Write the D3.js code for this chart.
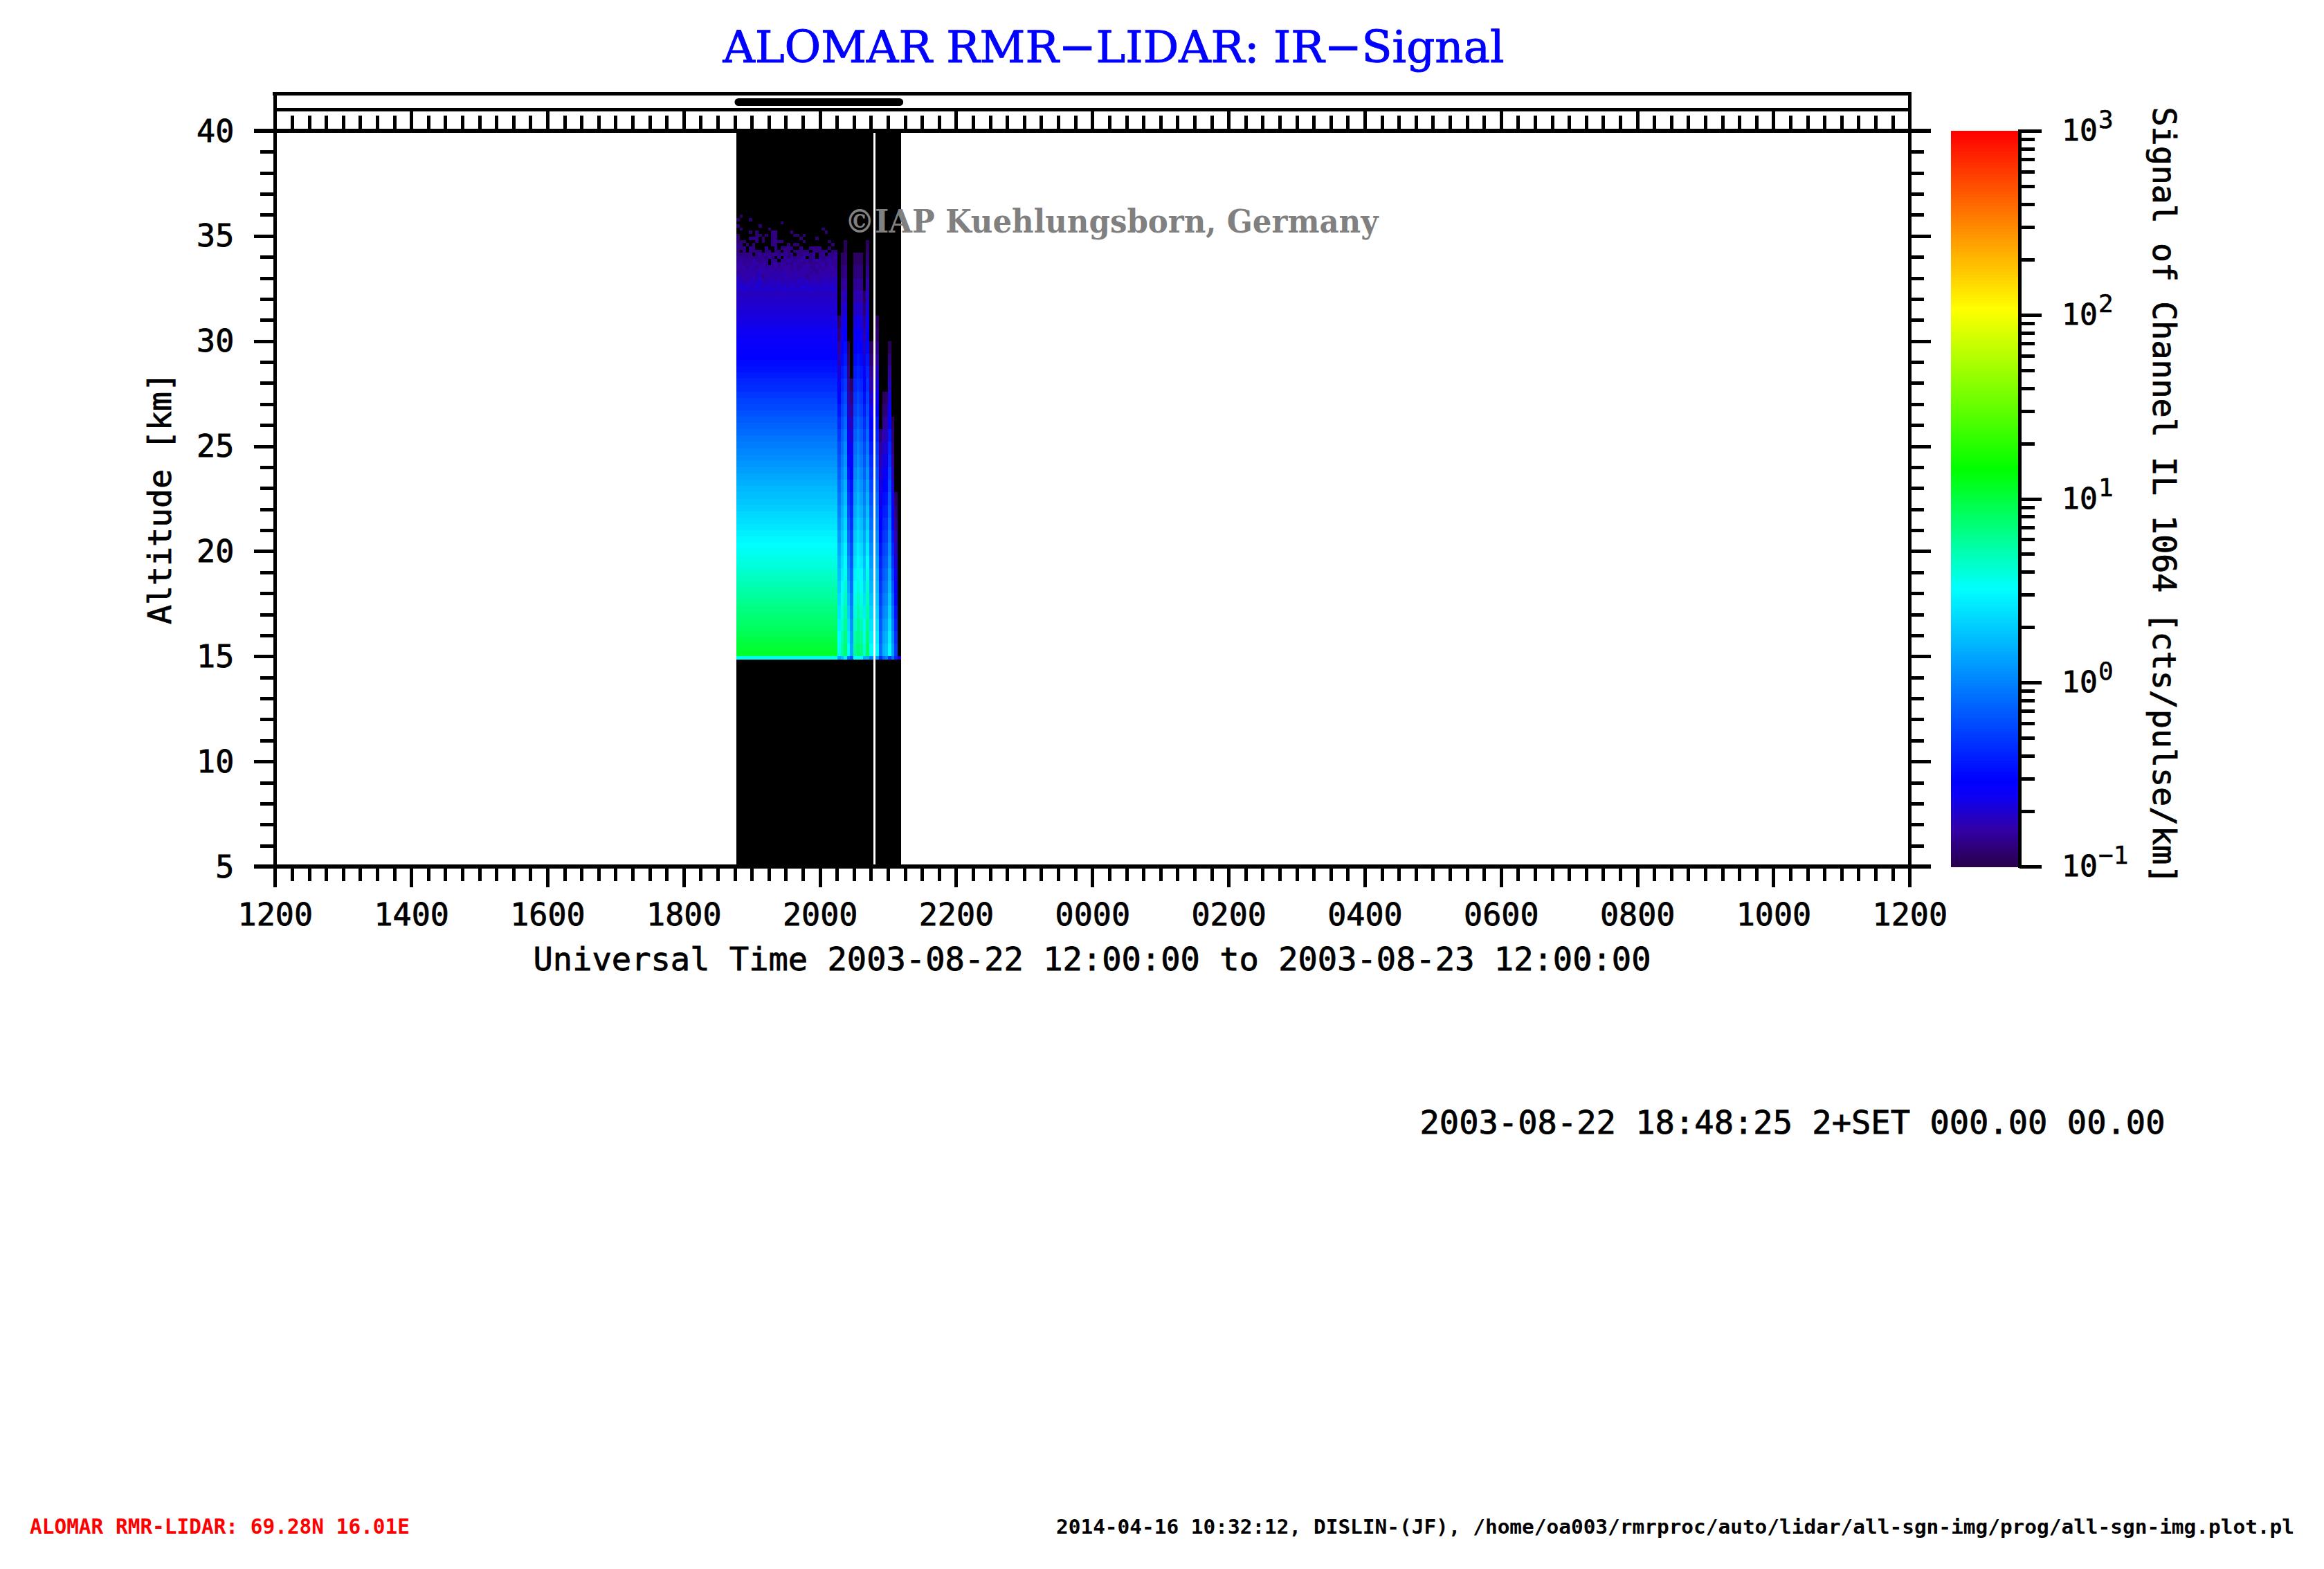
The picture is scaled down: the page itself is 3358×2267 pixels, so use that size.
<!DOCTYPE html>
<html><head><meta charset="utf-8">
<style>html,body{margin:0;padding:0;background:#fff}svg{display:block}</style>
<script src="https://cdn.jsdelivr.net/npm/d3@7"></script>
</head><body><svg id="c" width="3358" height="2267"></svg>
<script>
// ---------- texts and ticks
const titleText = "ALOMAR RMR\u2212LIDAR: IR\u2212Signal";
const watermark = "\u00A9IAP Kuehlungsborn, Germany";
const xTitle = "Universal Time 2003-08-22 12:00:00 to 2003-08-23 12:00:00";
const yTitle = "Altitude [km]";
const barTitle = "Signal of Channel IL 1064 [cts/pulse/km]";
const infoLine = "2003-08-22 18:48:25 2+SET 000.00 00.00";
const stationLine = "ALOMAR RMR-LIDAR: 69.28N 16.01E";
const footerLine = "2014-04-16 10:32:12, DISLIN-(JF), /home/oa003/rmrproc/auto/lidar/all-sgn-img/prog/all-sgn-img.plot.pl";
const xMajor = [12,14,16,18,20,22,24,26,28,30,32,34,36];
const yMajor = [5,10,15,20,25,30,35,40];
const barDecades = [-1,0,1,2,3];
const barMinorFactors = [2,3,4,5,6,7,8,9];

// ---------- colour table: log10(signal) -> colour
const colourLogs = [-1,-0.8,-0.6,-0.53,0.51,1.16,2.03,3];
const colourValues = ["#28004b","#3200a5","#0a00fa","#0000ff","#00ffff","#00ff00","#ffff00","#ff0000"];

// ---------- measurement columns (hours since 00 UT on 22 Aug)
const firstColumnStart = 18.774, wideColumnStep = 0.0464, wideColumnCount = 32;
const narrowEdges = [20.258,20.305,20.352,20.400,20.443,20.491,20.539,20.583,20.630,20.674,20.725,20.786,
                     null,20.816,20.867,20.918,20.962,21.002,21.050,21.094,21.141,21.189];

// ---------- log10(signal)*100
// Main block: 15.0 km upward in 0.3 km rows
const mainProfile = [105,102,99,95,92,89,86,83,80,76,73,70,67,64,60,57,54,51,48,45,41,38,35,31,28,25,22,18,15,12,8,5,2,
 -2,-5,-9,-13,-16,-20,-24,-27,-31,-35,-38,-42,-46,-49,-53,-55,-58,-60,-62,-64,-66,-68,-70,-72,-74];
// Main block, 36.0 km downward to 32.4 km in 0.15 km rows: one character per column, "." below the scale, d = -100 + 4*d
const noiseRows = [
 ".1..............................",
 "2...2...........................",
 "..............2.................",
 "2......2........................",
 ".2........2................2....",
 "....2.2....33....2..........2...",
 "2.....22.2.33.....22.2..........",
 "2...333.2..33.......2....2......",
 "222...2.2..3333......2.......2..",
 "33.2.2.....33...2.22..........2.",
 "333.33...3..3.3333..3..3333..2..",
 "3.3.3333.33.33.33.33333.33333.33",
 "33334.343434434434.334434.34.434",
 "444344344343.4.4343445.44.434445",
 "4544454444.44.445444544345444544",
 "5545465454.454544455445444554544",
 "55545645545454555454455445454554",
 "55556456565545455454565544545555",
 "45565566555656565565555454556545",
 "66556566456565665565654565565656",
 "76656767566656566656766565566667",
 "77667678666767666767667666767676",
 "78777687677677776776787777677776",
 "77887787787877787877877887787787"];
// Narrow cloud-affected columns: 15.0 km upward in 0.6 km rows
const narrowProfiles = [
 [55,50,45,40,36,30,25,20,15,10,5,0,-5,-10,-15,-20,-24,-31,-38,-45,-52,-60,-67,-74,-81,-88,-95],
 [75,70,64,59,54,49,43,38,33,28,22,17,12,7,1,-4,-9,-15,-21,-27,-32,-38,-44,-50,-56,-62,-68,-74,-79,-85,-91,-95],
 [90,85,79,74,68,63,57,52,47,41,36,31,25,20,14,9,4,-3,-9,-16,-22,-29,-35,-42,-48,-55,-61,-68,-74,-81,-87,-93,-97],
 [50,43,37,30,24,17,10,4,-3,-10,-16,-23,-29,-36,-43,-49,-55,-60,-66,-71,-76,-82,-87,-92,-96],
 [16,11,6,1,-4,-9,-13,-18,-23,-28,-33,-38,-42,-47,-52,-57,-62,-69,-75,-82,-88,-95],
 [78,73,67,62,57,51,46,40,35,30,24,19,13,8,3,-3,-8,-14,-20,-26,-31,-37,-43,-49,-55,-60,-66,-72,-78,-84,-90,-95],
 [88,82,77,71,66,60,55,49,44,38,33,27,22,16,11,5,0,-6,-13,-19,-25,-32,-38,-44,-51,-57,-63,-70,-76,-82,-88,-94],
 [83,77,72,66,60,54,49,43,37,31,26,20,14,8,3,-3,-8,-14,-20,-26,-31,-37,-43,-49,-55,-60,-66,-72,-78,-84,-90,-95],
 [60,55,49,44,39,34,28,23,18,13,7,2,-3,-8,-14,-19,-24,-30,-36,-43,-49,-55,-61,-67,-74,-80,-86,-92,-96],
 [93,87,81,75,69,63,57,51,45,38,32,26,20,14,8,2,-4,-10,-16,-21,-27,-33,-38,-44,-50,-56,-61,-67,-73,-78,-84,-90,-95],
 [50,44,39,33,27,21,16,10,4,-2,-8,-13,-19,-25,-31,-36,-42,-49,-56,-63,-70,-77,-83,-90,-96],
 null,
 [55,49,42,36,30,24,17,11,5,-1,-8,-14,-20,-26,-33,-39,-45,-50,-56,-61,-67,-72,-78,-83,-89,-94],
 [50,45,40,34,29,24,19,14,8,3,-2,-7,-12,-18,-23,-28,-33,-40,-46,-53,-59,-66,-72,-79,-85,-92,-96],
 [-8,-13,-17,-22,-27,-31,-36,-40,-45,-50,-54,-59,-64,-68,-73,-77,-82,-90],
 [20,14,9,3,-2,-8,-14,-19,-25,-31,-36,-42,-48,-53,-59,-64,-70,-77,-84,-90,-96],
 [25,19,13,7,1,-5,-11,-17,-23,-29,-34,-40,-46,-52,-58,-64,-70,-76,-83,-89,-95],
 [50,45,39,34,28,23,18,12,7,1,-4,-10,-15,-21,-26,-32,-37,-44,-52,-59,-67,-74,-82,-89,-96],
 [12,6,-1,-7,-13,-19,-26,-32,-38,-44,-51,-57,-63,-69,-76,-82,-88,-92,-97],
 [-29,-34,-40,-45,-51,-56,-62,-67,-73,-78,-84,-89,-95]];
// Bright layer just below 15 km: main block value, then the narrow columns
const baseMain = 55;
const baseNarrow = [14,24,44,-8,-20,52,52,50,16,20,0,null,12,8,-36,-10,0,-30,-8,-38,-70];

// ---------- scales
const x = d3.scaleLinear().domain([12,36]).range([397.3,2759.3]);
const y = d3.scaleLinear().domain([5,40]).range([1252,189]);
const cb = d3.scaleLinear().domain([-1,3]).range([1252,189]);
const colour = d3.scaleLinear().domain(colourLogs).range(colourValues).clamp(true);

const svg = d3.select("#c");
const monoFont = "'DejaVu Sans Mono'";
const plot = svg.append("g").attr("shape-rendering","crispEdges");

// ---------- build cells
const columns = [], cells = [];
d3.range(wideColumnCount).forEach(i => columns.push({t0:firstColumnStart+i*wideColumnStep, t1:firstColumnStart+(i+1)*wideColumnStep, i, wide:true}));
narrowEdges.forEach((e,i) => { if(e!==null && narrowEdges[i+1]!=null) columns.push({t0:e,t1:narrowEdges[i+1],n:i,wide:false}); });
columns.forEach(c => {
  if(c.wide){
    cells.push({t0:c.t0,t1:c.t1,a0:14.85,a1:15,v:baseMain});
    mainProfile.forEach((v,k)=>cells.push({t0:c.t0,t1:c.t1,a0:15+k*0.3,a1:15.3+k*0.3,v}));
    noiseRows.forEach((r,k)=>{ const ch=r[c.i];
      if(ch && ch!==".") cells.push({t0:c.t0,t1:c.t1,a0:35.85-k*0.15,a1:36-k*0.15,v:-100+4*(+ch)}); });
  } else {
    const base=baseNarrow[c.n];
    if(base!=null) cells.push({t0:c.t0,t1:c.t1,a0:14.85,a1:15,v:base});
    (narrowProfiles[c.n]||[]).forEach((v,k)=>cells.push({t0:c.t0,t1:c.t1,a0:15+k*0.6,a1:15.6+k*0.6,v}));
  }
});

// black: values under the scale, one bar per column
plot.selectAll("rect.col").data(columns).join("rect").attr("class","col")
  .attr("x",d=>x(d.t0)).attr("width",d=>x(d.t1)-x(d.t0))
  .attr("y",y(40)).attr("height",y(5)-y(40)).attr("fill","#000");
plot.selectAll("rect.cell").data(cells).join("rect").attr("class","cell")
  .attr("x",d=>x(d.t0)).attr("width",d=>x(d.t1)-x(d.t0))
  .attr("y",d=>y(d.a1)).attr("height",d=>y(d.a0)-y(d.a1))
  .attr("fill",d=>colour(d.v/100));

// ---------- axes
function styleAxis(g,w){ g.select(".domain").remove();
  g.selectAll("line").attr("stroke","#000").attr("stroke-width",w).attr("shape-rendering","crispEdges");
  g.selectAll("text").attr("fill","#000").attr("stroke","#000").attr("stroke-width",0.8)
    .attr("font-family",monoFont).attr("font-size",45); }
const xMinor = d3.range(12,36.01,0.25).filter(h=>h%2!==0);
const yMinor = d3.range(5,40.01,1).filter(a=>a%5!==0);
const hourFmt = h => d3.format("02")(h%24)+"00";

const bottomMajor = svg.append("g").attr("transform",`translate(0,${y(5)})`)
  .call(d3.axisBottom(x).tickValues(xMajor).tickSize(30).tickFormat(hourFmt));
styleAxis(bottomMajor,5);
bottomMajor.selectAll("text").attr("y",85).attr("dy",0).attr("text-anchor","middle");
svg.append("g").attr("transform",`translate(0,${y(5)})`)
  .call(d3.axisBottom(x).tickValues(xMinor).tickSize(21).tickFormat("")).call(styleAxis,5);
svg.append("g").attr("transform",`translate(0,${y(40)})`)
  .call(d3.axisTop(x).tickValues(xMajor).tickSize(31).tickFormat("")).call(styleAxis,5);
svg.append("g").attr("transform",`translate(0,${y(40)})`)
  .call(d3.axisTop(x).tickValues(xMinor).tickSize(22).tickFormat("")).call(styleAxis,5);

const leftMajor = svg.append("g").attr("transform",`translate(${x(12)},0)`)
  .call(d3.axisLeft(y).tickValues(yMajor).tickSize(30).tickFormat(d3.format("d")));
styleAxis(leftMajor,5);
leftMajor.selectAll("text").attr("x",-59).attr("dy",15).attr("text-anchor","end");
svg.append("g").attr("transform",`translate(${x(12)},0)`)
  .call(d3.axisLeft(y).tickValues(yMinor).tickSize(21).tickFormat("")).call(styleAxis,5);
svg.append("g").attr("transform",`translate(${x(36)},0)`)
  .call(d3.axisRight(y).tickValues(yMajor).tickSize(31).tickFormat("")).call(styleAxis,5);
svg.append("g").attr("transform",`translate(${x(36)},0)`)
  .call(d3.axisRight(y).tickValues(yMinor).tickSize(21).tickFormat("")).call(styleAxis,5);

// frame lines
const frame = svg.append("g").attr("stroke","#000").attr("shape-rendering","crispEdges");
const hLine=(xa,xb,yy,w)=>frame.append("line").attr("x1",xa).attr("x2",xb).attr("y1",yy).attr("y2",yy).attr("stroke-width",w);
const vLine=(xx,ya,yb,w)=>frame.append("line").attr("x1",xx).attr("x2",xx).attr("y1",ya).attr("y2",yb).attr("stroke-width",w);
hLine(x(12)-3,x(36)+3,135,5);
hLine(x(12),x(36),158,5);
hLine(x(12)-30,x(36)+31,y(40),6);
hLine(x(12)-30,x(36)+31,y(5),6);
vLine(x(12),133,y(5)+30,5);
vLine(x(36),133,y(5)+30,5);

// strip bar: time range of the measurement
svg.append("line").attr("x1",x(firstColumnStart)+3).attr("x2",x(narrowEdges[narrowEdges.length-1])-2)
  .attr("y1",147.5).attr("y2",147.5).attr("stroke","#000").attr("stroke-width",11).attr("stroke-linecap","round");

// ---------- colour bar
const barSteps = d3.range(256);
const barG = svg.append("g").attr("shape-rendering","crispEdges");
barG.selectAll("rect").data(barSteps).join("rect")
  .attr("x",2819).attr("width",97)
  .attr("y",i=>cb(-1+(i+1)*4/256)-0.5).attr("height",i=>cb(-1+i*4/256)-cb(-1+(i+1)*4/256)+1)
  .attr("fill",i=>colour(-1+(i+0.5)*4/256));
const barMinor = barDecades.slice(0,-1).flatMap(d=>barMinorFactors.map(f=>d+Math.log10(f)));
svg.append("g").attr("transform","translate(2918,0)")
  .call(d3.axisRight(cb).tickValues(barDecades).tickSize(32).tickFormat("")).call(styleAxis,5);
svg.append("g").attr("transform","translate(2918,0)")
  .call(d3.axisRight(cb).tickValues(barMinor).tickSize(22).tickFormat("")).call(styleAxis,5);
frame.append("line").attr("x1",2918).attr("x2",2918).attr("y1",187).attr("y2",1254).attr("stroke-width",5);

barDecades.forEach(d=>{
  svg.append("text").attr("font-family",monoFont).attr("fill","#000").attr("stroke","#000").attr("stroke-width",0.8)
    .attr("x",2979).attr("y",cb(d)+14).attr("font-size",43).text("10");
  svg.append("text").attr("font-family",monoFont).attr("fill","#000").attr("stroke","#000").attr("stroke-width",0.6)
    .attr("x",3032).attr("y",cb(d)-4).attr("font-size",36).text(d<0?"\u2212"+(-d):d);
});

// ---------- text
function label(str,opts){ const t=svg.append("text").text(str).attr("fill",opts.fill||"#000")
  .attr("font-family",opts.font||monoFont).attr("font-size",opts.size).attr("font-weight",opts.weight||"normal")
  .attr("text-anchor",opts.anchor||"middle").attr("transform",`translate(${opts.x},${opts.y})`+(opts.rot?` rotate(${opts.rot})`:""));
  if(opts.stroke) t.attr("stroke",opts.fill||"#000").attr("stroke-width",opts.stroke);
  if(opts.len) t.attr("textLength",opts.len).attr("lengthAdjust","spacingAndGlyphs");
  return t; }
label(titleText,{x:1609,y:90,size:64,fill:"#0000ff",font:"'DejaVu Serif'",len:1129,stroke:1});
label(watermark,{x:1606,y:336,size:46,fill:"#808080",font:"'DejaVu Serif'",weight:"bold",len:771});
label(xTitle,{x:1578,y:1402,size:46,len:1615,stroke:0.8});
label(yTitle,{x:247,y:720,size:46,rot:-90,len:364,stroke:0.8});
label(barTitle,{x:3111,y:716,size:46,rot:90,len:1123,stroke:0.8});
label(infoLine,{x:2590,y:1638,size:46,len:1077,stroke:0.8});
label(stationLine,{x:43,y:2216,size:29.5,fill:"#ff0000",weight:"bold",anchor:"start",len:549});
label(footerLine,{x:1526,y:2216,size:29,weight:"bold",anchor:"start",len:1789});
</script></body></html>
